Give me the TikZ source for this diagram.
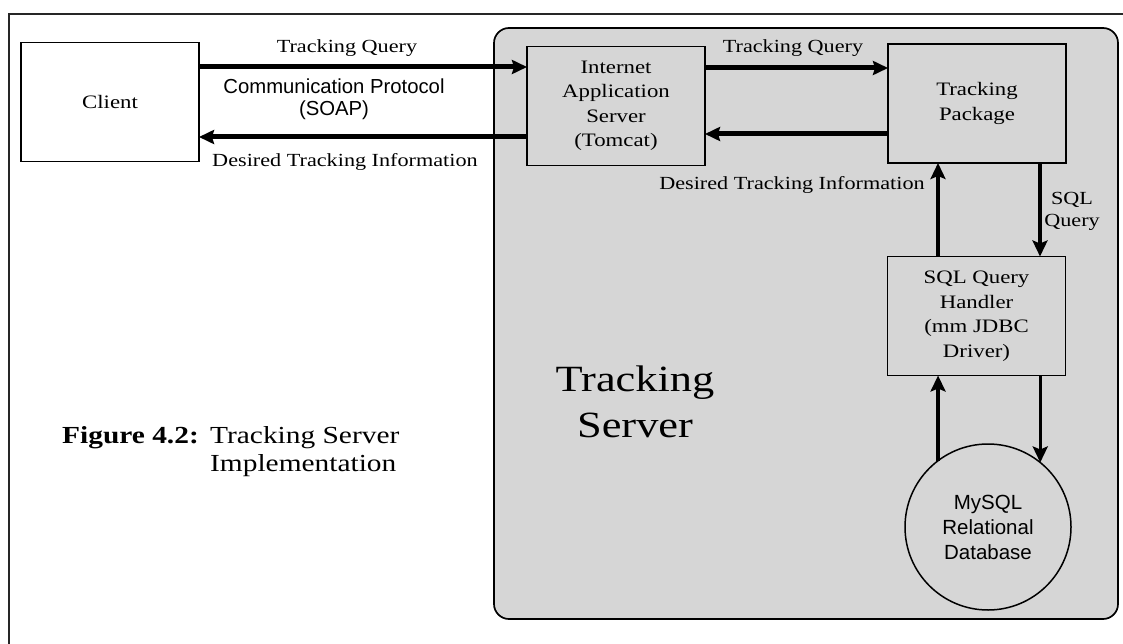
\documentclass[tikz,border=0pt]{standalone}
\usepackage{fontspec}
\setmainfont{Liberation Serif}[FakeStretch=1.2]
\newfontfamily\mysans{Liberation Sans}
\usetikzlibrary{arrows.meta}
\definecolor{srvgray}{RGB}{214,214,214}
\newcommand\boxfont{\fontsize{19}{24.5}\selectfont}
\newcommand\lblfont{\fontsize{18.5}{22}\selectfont}
\newcommand\capfont{\fontsize{24.5}{28}\selectfont}
\begin{document}
\begin{tikzpicture}[x=1pt,y=-1pt,
  box/.style={draw, line width=1.7pt, minimum width=178pt, minimum height=119pt,
    inner sep=0pt, outer sep=0pt, align=center, font=\boxfont},
  harrow/.style={line width=5pt, -{Stealth[length=15pt,width=14pt,inset=2pt]}},
  varrow/.style={line width=3.2pt, -{Stealth[length=16pt,width=15pt,inset=3pt]}},
  lbl/.style={inner sep=0pt, font=\lblfont, align=center}]
\useasboundingbox (0,0) rectangle (1123,644);
\fill[white] (0,0) rectangle (1123,644);
% outer frame (cut at right and bottom)
\draw[line width=1.5pt, black!85] (1123,14) -- (9,14) -- (9,644);
% server region
\draw[fill=srvgray, line width=1.7pt, rounded corners=15pt] (494,28) rectangle (1118,619);
% boxes
\node[box, fill=white] (client) at (110,102) {Client};
\node[box, fill=srvgray] (ias) at (616,106) {Internet\\Application\\Server\\(Tomcat)};
\node[box, fill=srvgray] (tp) at (977,103.5) {Tracking\\Package};
\node[box, fill=srvgray] (sqlh) at (976.5,316) {SQL Query\\Handler\\(mm JDBC\\Driver)};
\node[circle, draw, fill=srvgray, minimum size=166pt, inner sep=0pt, outer sep=0pt,
  line width=1.5pt, align=center, font=\mysans\fontsize{20.5}{25}\selectfont]
  (db) at (988,527) {MySQL\\Relational\\Database};
% labels
\node[lbl] (tq1) at (347,48) {Tracking Query};
\node[lbl, font=\mysans\fontsize{20.3}{22}\selectfont] (cp) at (334,99) {Communication Protocol\\(SOAP)};
\node[lbl] (dti1) at (345,162) {Desired Tracking Information};
\node[lbl] (tq2) at (793,48) {Tracking Query};
\node[lbl] (dti2) at (792,185) {Desired Tracking Information};
\node[lbl] (sq) at (1072,211) {SQL\\Query};
\node[inner sep=0pt, align=center, font=\fontsize{37}{46}\selectfont] (ts) at (635,402) {Tracking\\Server};
\node[anchor=base west, inner sep=0pt, font=\capfont\bfseries] (fig) at (62,443) {Figure 4.2:};
\node[anchor=base west, inner sep=0pt, font=\capfont] (cap1) at (210,443) {Tracking Server};
\node[anchor=base west, inner sep=0pt, font=\capfont] (cap2) at (210,471) {Implementation};
% connectors
\coordinate (ya) at (0,67);
\coordinate (yb) at (0,137);
\coordinate (yc) at (0,68);
\coordinate (yd) at (0,134);
\coordinate (xu) at (938,0);
\coordinate (xd) at (1040,0);
\draw[harrow] (client.east |- ya) -- (ias.west |- ya);
\draw[harrow] (ias.west |- yb) -- (client.east |- yb);
\draw[harrow] (ias.east |- yc) -- (tp.west |- yc);
\draw[harrow] (tp.west |- yd) -- (ias.east |- yd);
\draw[varrow] (sqlh.north -| xu) -- (tp.south -| xu);
\draw[varrow] (tp.south -| xd) -- (sqlh.north -| xd);
\draw[varrow] (db.127) -- (sqlh.south -| db.127);
\draw[varrow] (sqlh.south -| db.51) -- (db.51);
\end{tikzpicture}
\end{document}
